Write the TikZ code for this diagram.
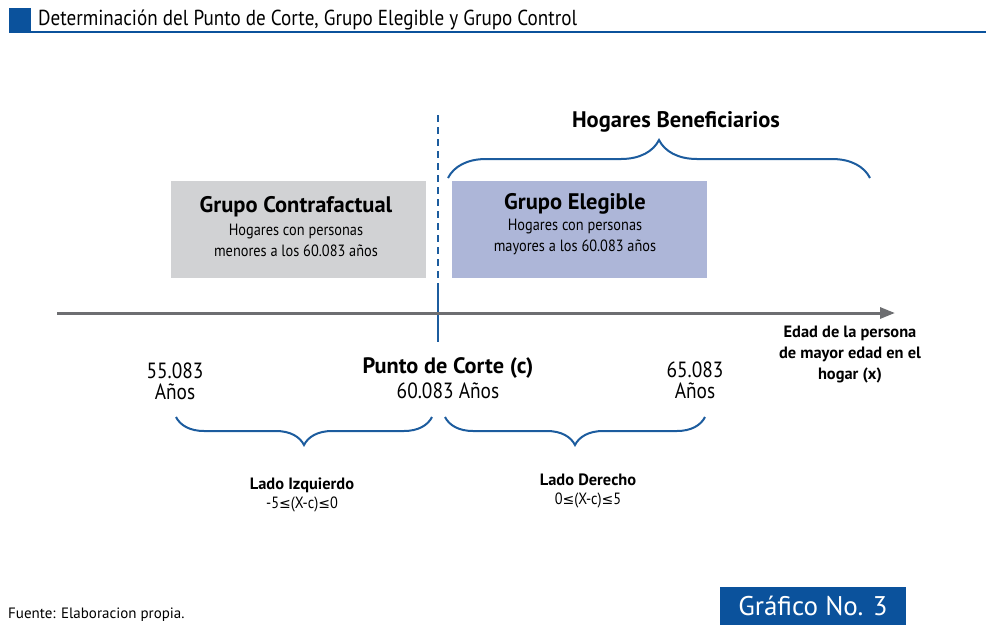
\documentclass[tikz,border=0pt]{standalone}
\usepackage{fontspec}
\setmainfont[FakeStretch=0.88]{PT Sans}
\newfontfamily\negrita{PT Sans Bold}
\newfontfamily\llano{PT Sans}
\newfontfamily\symfont{DejaVu Sans}
\usetikzlibrary{arrows.meta,decorations.pathreplacing}
\definecolor{azul}{HTML}{1C5C9E}
\definecolor{azulbar}{HTML}{0B529C}
\definecolor{gris}{HTML}{D1D2D4}
\definecolor{lila}{HTML}{ADB6D8}
\definecolor{eje}{HTML}{6D6E71}
\newcommand{\menorig}{{\symfont\fontsize{14}{16}\selectfont ≤}}
\begin{document}
\begin{tikzpicture}[x=1pt,y=-1pt,
  big/.style={font=\negrita\fontsize{22.5}{25}\selectfont,inner sep=0pt},
  small/.style={font=\fontsize{16.3}{21}\selectfont,align=center,inner sep=0pt},
  smallb/.style={font=\negrita\fontsize{16.4}{21}\selectfont,align=center,inner sep=0pt},
  num/.style={font=\fontsize{22}{21}\selectfont,align=center,inner sep=0pt},
  brc/.style={draw=azul,line width=2pt,decorate,decoration={brace,amplitude=#1}}]
\useasboundingbox (0,0) rectangle (986,625);
% title
\fill[azulbar] (9,8) rectangle (31,32);
\draw[azulbar,line width=2pt] (9,32) -- (986,32);
\node[font=\fontsize{21.7}{24}\selectfont,anchor=base west,inner sep=0pt] (titulo) at (38,25) {Determinación del Punto de Corte, Grupo Elegible y Grupo Control};
% boxes
\node[fill=gris,minimum width=255,minimum height=97,inner sep=0pt] (contra) at (298.5,229.5) {};
\node[fill=lila,minimum width=255,minimum height=97,inner sep=0pt] (eleg) at (579.5,229.5) {};
\node[big] (contraT) at (296,207) {Grupo Contrafactual};
\node[small] (contraS) at (296,240) {Hogares con personas\\menores a los 60.083 años};
\node[big] (elegT) at (575,204) {Grupo Elegible};
\node[small] (elegS) at (575,237) {Hogares con personas\\mayores a los 60.083 años};
% cut-off line and axis
\coordinate (c1) at (438,115);
\coordinate (c2) at (438,290);
\coordinate (c3) at (438,342);
\draw[azul,line width=2.5pt,dash pattern=on 7pt off 5pt] (c1) -- (c2);
\draw[azul,line width=2.5pt] (c2) -- (c3);
\coordinate (e0) at (57,313);
\coordinate (e1) at (895,313);
\draw[eje,line width=3pt,-{Triangle[length=15pt,width=11pt]}] (e0) -- (e1);
% braces
\coordinate (b1) at (448,178); \coordinate (b2) at (870,178);
\draw[brc=38] (b1) -- (b2);
\node[big] (benef) at (676,122) {Hogares Beneficiarios};
\coordinate (l1) at (176,417); \coordinate (l2) at (432,417);
\draw[brc=28] (l2) -- (l1);
\coordinate (r1) at (445,417); \coordinate (r2) at (705,417);
\draw[brc=28] (r2) -- (r1);
% labels
\node[num] (a55) at (175,381) {55.083\\Años};
\node[big,font=\negrita\fontsize{22.3}{24}\selectfont] (corte) at (448,368) {Punto de Corte (c)};
\node[num] (a60) at (448,391) {60.083 Años};
\node[num] (a65) at (695,380) {65.083\\Años};
\node[smallb] (edad) at (850,355) {Edad de la persona\\de mayor edad en el\\hogar (x)};
\node[smallb] (izq) at (302,485) {Lado Izquierdo};
\node[small] (izqS) at (302,504) {-5\menorig(X-c)\menorig0};
\node[smallb] (der) at (588,480) {Lado Derecho};
\node[small] (derS) at (588,500) {0\menorig(X-c)\menorig5};
% footer
\node[font=\llano\fontsize{15}{17}\selectfont,anchor=west,inner sep=0pt] (fuente) at (8,615) {Fuente: Elaboracion propia.};
\node[fill=azulbar,minimum width=186,minimum height=38,inner sep=0pt,text=white,font=\llano\fontsize{27}{29}\selectfont] (graf) at (813,606) {Gráfico No. 3};
\end{tikzpicture}
\end{document}
